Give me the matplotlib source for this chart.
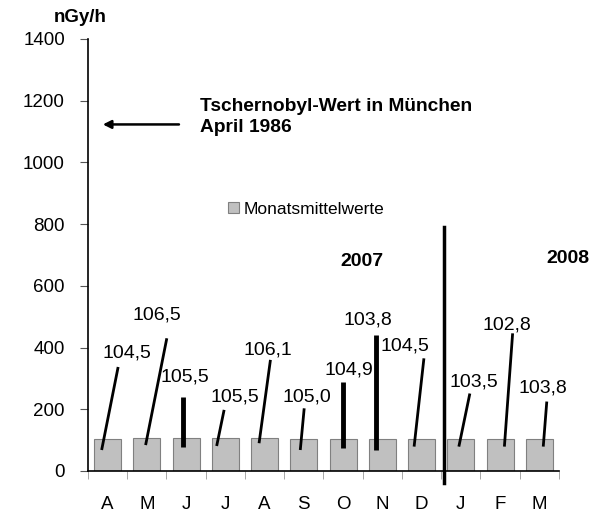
import numpy as np
import matplotlib
matplotlib.use('Agg')
import matplotlib.pyplot as plt

plt.rcParams['font.family'] = ['Liberation Sans', 'DejaVu Sans']

months = ['A', 'M', 'J', 'J', 'A', 'S', 'O', 'N', 'D', 'J', 'F', 'M']
values = [104.5, 106.5, 105.5, 105.5, 106.1, 105.0, 104.9, 103.8, 104.5, 103.5, 102.8, 103.8]
yticks = [0, 200, 400, 600, 800, 1000, 1200, 1400]

# leader lines: (x_start offset, y_start, x_end offset, y_end, label x offset, label y, width)
leaders = [
    (-0.15, 68, 0.27, 337, 0.49, 382, 2),
    (-0.03, 84, 0.51, 430, 0.25, 505, 2),
    (-0.07, 78, -0.07, 241, -0.04, 306, 3.5),
    (-0.22, 81, -0.03, 198, 0.25, 239, 2),
    (-0.14, 90, 0.15, 360, 0.09, 392, 2),
    (-0.09, 68, 0.01, 203, 0.07, 239, 2),
    (0.0, 76, 0.0, 287, 0.15, 327, 3.5),
    (-0.17, 68, -0.17, 441, -0.36, 489, 3.5),
    (-0.19, 79, 0.06, 365, -0.42, 405, 2),
    (-0.05, 79, 0.23, 251, 0.33, 289, 2),
    (0.11, 79, 0.32, 446, 0.17, 473, 2),
    (0.10, 79, 0.19, 225, 0.10, 268, 2),
]

fig = plt.figure(figsize=(5.94, 5.14), dpi=100)
ax = fig.add_axes([0.148, 0.0837, 0.793, 0.8405])

x = np.arange(len(months))
ax.bar(x, values, width=0.69, color='#c0c0c0', edgecolor='#808080', linewidth=0.8,
       label='Monatsmittelwerte', zorder=2)

for i, (v, (x0, y0, x1, y1, lx, ly, lw)) in enumerate(zip(values, leaders)):
    ax.plot([i + x0, i + x1], [y0, y1], color='black', lw=lw, solid_capstyle='butt', zorder=3)
    ax.text(i + lx, ly, ('%.1f' % v).replace('.', ','), ha='center', va='center', fontsize=14)

# divider between 2007 and 2008
ax.plot([8.56, 8.56], [792, -40], color='black', lw=2.5, clip_on=False, zorder=4)
ax.text(6.47, 678, '2007', ha='center', va='center', fontsize=14, fontweight='bold')
ax.text(11.73, 690, '2008', ha='center', va='center', fontsize=14, fontweight='bold')

ax.annotate('', xy=(-0.19, 1123), xytext=(1.89, 1123),
            arrowprops=dict(arrowstyle='-|>', color='black', lw=1.8, mutation_scale=12))
ax.text(2.36, 1148, 'Tschernobyl-Wert in München\nApril 1986', ha='left', va='center',
        fontsize=13.8, fontweight='bold', linespacing=1.3)

ax.set_xlim(-0.5, len(months) - 0.5)
ax.set_ylim(0, 1400)
ax.set_yticks(yticks)
ax.set_yticklabels([str(t) for t in yticks], fontsize=13.5)
ax.set_xticks(x)
ax.set_xticklabels(months, fontsize=13.5)
ax.set_xticks(np.arange(-0.5, len(months), 1), minor=True)
ax.tick_params(axis='x', which='major', length=0, pad=18)
ax.tick_params(axis='x', which='minor', length=6, color='#999999')
ax.tick_params(axis='y', length=6, color='#555555', pad=10.5)

for s in ['top', 'right']:
    ax.spines[s].set_visible(False)
ax.spines['left'].set_linewidth(1.2)
ax.spines['bottom'].set_linewidth(1.2)

fig.text(0.135, 0.965, 'nGy/h', ha='center', va='center', fontsize=13.5, fontweight='bold')

leg = ax.legend(loc='center left', bbox_to_anchor=(0.265, 0.606), frameon=False, fontsize=12.5,
                handlelength=0.6, handleheight=0.6, handletextpad=0.3)

fig.savefig('out.png', dpi=100)
